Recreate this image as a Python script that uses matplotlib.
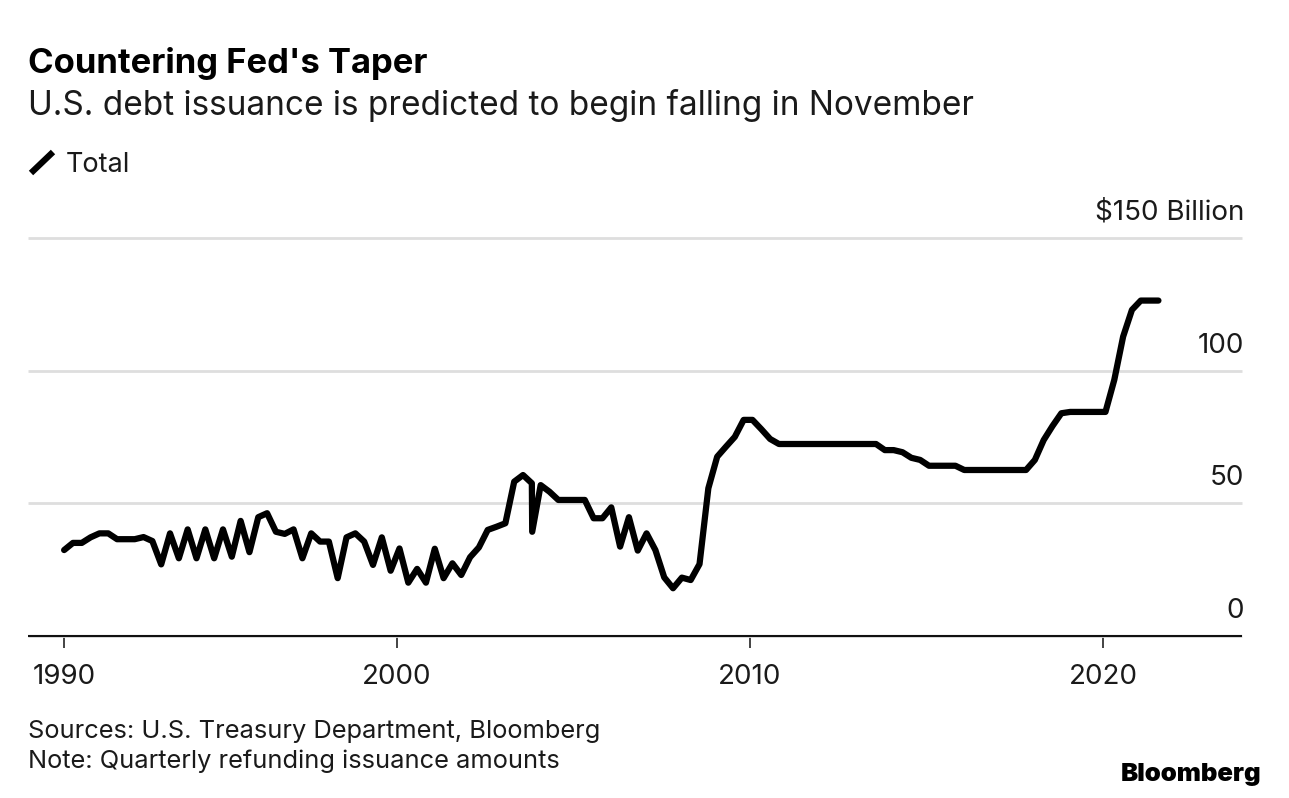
import matplotlib
matplotlib.use("Agg")
import matplotlib.pyplot as plt
from matplotlib.lines import Line2D
from matplotlib.transforms import Affine2D

title = "Countering Fed's Taper"
subtitle = "U.S. debt issuance is predicted to begin falling in November"
legend_label = "Total"
source_lines = ["Sources: U.S. Treasury Department, Bloomberg",
                "Note: Quarterly refunding issuance amounts"]
brand = "Bloomberg"

years = [1990.57, 1990.82, 1991.07, 1991.32, 1991.57, 1991.82, 1992.07, 1992.32, 1992.57, 1992.82,
         1993.07, 1993.32, 1993.57, 1993.82, 1994.07, 1994.32, 1994.57, 1994.82, 1995.07, 1995.32,
         1995.57, 1995.82, 1996.07, 1996.32, 1996.57, 1996.82, 1997.07, 1997.32, 1997.57, 1997.82,
         1998.07, 1998.32, 1998.57, 1998.82, 1999.07, 1999.32, 1999.57, 1999.82, 2000.07, 2000.32,
         2000.57, 2000.82, 2001.07, 2001.32, 2001.57, 2001.82, 2002.07, 2002.32, 2002.57, 2002.82,
         2003.07, 2003.32, 2003.57, 2003.82, 2003.83, 2004.07, 2004.32, 2004.57, 2004.82, 2005.07,
         2005.32, 2005.57, 2005.82, 2006.07, 2006.32, 2006.57, 2006.82, 2007.07, 2007.32, 2007.57,
         2007.82, 2008.07, 2008.32, 2008.57, 2008.82, 2009.07, 2009.32, 2009.57, 2009.82, 2010.07,
         2010.32, 2010.57, 2010.82, 2011.07, 2011.32, 2011.57, 2011.82, 2012.07, 2012.32, 2012.57,
         2012.82, 2013.07, 2013.32, 2013.57, 2013.82, 2014.07, 2014.32, 2014.57, 2014.82, 2015.07,
         2015.32, 2015.57, 2015.82, 2016.07, 2016.32, 2016.57, 2016.82, 2017.07, 2017.32, 2017.57,
         2017.82, 2018.07, 2018.32, 2018.57, 2018.82, 2019.07, 2019.32, 2019.57, 2019.82, 2020.07,
         2020.32, 2020.57, 2020.82, 2021.07, 2021.32, 2021.57]
total = [32.3, 35, 35, 37.1, 38.6, 38.6, 36.4, 36.4, 36.4, 37.2,
         35.7, 26.9, 38.6, 29.2, 40.1, 29.2, 40.1, 29.2, 40.1, 29.8,
         43.3, 31.5, 44.7, 46.2, 39.2, 38.4, 40.1, 29.2, 38.6, 35.5,
         35.5, 21.7, 37.1, 38.6, 35.5, 26.7, 37.1, 24.5, 32.9, 20,
         25.2, 20, 32.8, 21.7, 27.3, 22.9, 29.6, 33.3, 39.9, 41.1,
         42.4, 58.1, 60.6, 57.5, 39.2, 56.8, 54.3, 51.2, 51.2, 51.2,
         51.2, 44.3, 44.3, 48.4, 33.6, 44.7, 32.1, 38.6, 32.3, 22,
         17.9, 21.9, 21, 27, 55.6, 67.5, 71.3, 75, 81.4, 81.4,
         77.9, 74.2, 72.3, 72.3, 72.3, 72.3, 72.3, 72.3, 72.3, 72.3,
         72.3, 72.3, 72.3, 72.3, 70, 70, 69.2, 67.1, 66.3, 64.1,
         64.1, 64.1, 64.1, 62.5, 62.5, 62.5, 62.5, 62.5, 62.5, 62.5,
         62.5, 66.3, 73.8, 79.1, 83.9, 84.4, 84.4, 84.4, 84.4, 84.4,
         96.5, 112.8, 122.9, 126.4, 126.4, 126.4]

x_ticks = [1990.57, 2000, 2010, 2020]
x_tick_labels = ["1990", "2000", "2010", "2020"]
y_ticks = [0, 50, 100, 150]
y_tick_labels = ["0", "50", "100", "$150 Billion"]

plt.rcParams["font.family"] = ["Inter", "Liberation Sans", "DejaVu Sans"]
W, H = 1289, 798
fig = plt.figure(figsize=(W / 100, H / 100), dpi=100, facecolor="white")
ax = fig.add_axes([28 / W, 1 - 635.7 / H, (1242 - 28) / W, (635.7 - 238) / H])
ax.set_xlim(2010 - (750 - 28) / 35.3, 2010 + (1242 - 750) / 35.3)
ax.set_ylim(0, 150)

ax.plot(years, total, color="black", lw=4.5, solid_joinstyle="round",
        solid_capstyle="round", clip_on=False, zorder=3)

for s in ["top", "left", "right"]:
    ax.spines[s].set_visible(False)
ax.spines["bottom"].set_linewidth(1.5)
ax.spines["bottom"].set_color("#111111")
ax.spines["bottom"].set_capstyle("butt")

ax.set_yticks(y_ticks)
ax.set_yticklabels([])
ax.tick_params(axis="y", length=0)
ax.grid(axis="y", color="#dedede", lw=2.0, clip_on=False, solid_capstyle="butt")
ax.set_axisbelow(True)
ax.set_xticks(x_ticks)
ax.set_xticklabels(x_tick_labels, fontsize=20, color="#1a1a1a")
ax.tick_params(axis="x", length=8.6, width=1.1, color="#111111", pad=11.5)

for v, lab in zip(y_ticks, y_tick_labels):
    ax.annotate(lab, xy=(1, v), xycoords=("axes fraction", "data"),
                xytext=(1.4, 13), textcoords="offset points",
                ha="right", va="baseline", fontsize=20, color="#1a1a1a")

px = Affine2D().scale(1, -1).translate(0, H)  # reference pixel coords
def t(x, y, s, **kw):
    fig.text(x, y, s, transform=px, va="baseline", **kw)

t(28, 73, title, fontsize=24.9, fontweight="bold", color="black")
t(28, 115, subtitle, fontsize=24, color="#1a1a1a")
fig.add_artist(Line2D([31, 53], [173, 152], transform=px, color="black", lw=4.5, solid_capstyle="butt"))
t(66, 172.5, legend_label, fontsize=19.5, color="#1a1a1a")
t(28, 738, source_lines[0], fontsize=18.3, color="#1a1a1a")
t(28, 768, source_lines[1], fontsize=18.3, color="#1a1a1a")
t(1261, 781, brand, fontsize=18.5, fontweight=900, color="black", ha="right")

fig.savefig("out.png", dpi=100, facecolor="white")
